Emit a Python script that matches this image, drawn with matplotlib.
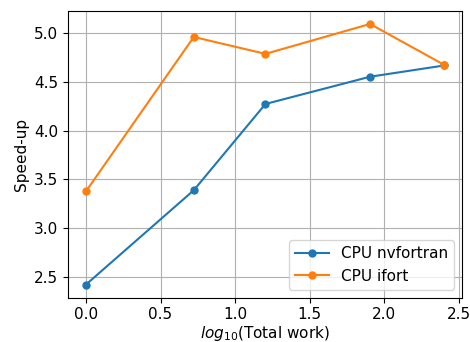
import matplotlib
matplotlib.use("Agg")
import matplotlib.pyplot as plt

# log10 of total work
log_work = [0.0, 0.723, 1.204, 1.906, 2.403]
speedup_nvfortran = [2.425, 3.39, 4.273, 4.552, 4.667]
speedup_ifort = [3.38, 4.959, 4.786, 5.092, 4.674]

plt.rcParams["font.size"] = 11

fig = plt.figure(figsize=(4.7, 3.42), dpi=100)
ax = fig.add_axes([0.145, 0.130, 0.838, 0.838])
ax.plot(log_work, speedup_nvfortran, marker="o", markersize=5, label="CPU nvfortran")
ax.plot(log_work, speedup_ifort, marker="o", markersize=5, label="CPU ifort")
ax.set_xlabel(r"$log_{10}$(Total work)", labelpad=1)
ax.set_ylabel("Speed-up")
ax.grid(True)
ax.legend(loc="lower right", handlelength=2.2)
fig.savefig("out.png", dpi=100)
